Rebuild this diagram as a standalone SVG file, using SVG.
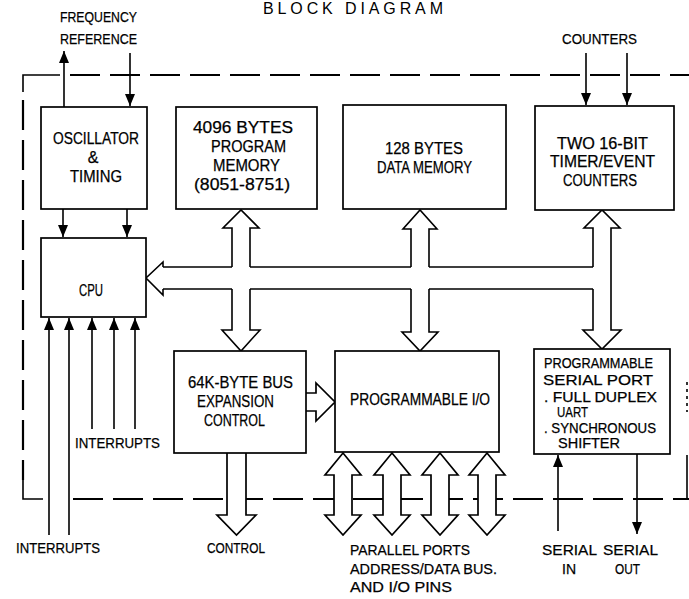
<svg xmlns="http://www.w3.org/2000/svg" width="689" height="599" viewBox="0 0 689 599">
<defs>
<marker id="ah" viewBox="0 0 12 10" refX="12" refY="5" markerWidth="12" markerHeight="10" markerUnits="userSpaceOnUse" orient="auto">
<path d="M0,0 L12,5 L0,10 Z" fill="#000"/>
</marker>
<style>
.box{fill:#fff;stroke:#000;stroke-width:1.7}
.ln{fill:none;stroke:#000;stroke-width:1.6}
.arr{fill:none;stroke:#000;stroke-width:1.6;marker-end:url(#ah)}
.bus{fill:#fff;stroke:#000;stroke-width:1.7;stroke-linejoin:miter}
.dash{fill:none;stroke:#000;stroke-width:2.2;stroke-dasharray:30 10}
text{font-family:"Liberation Sans",Arial,sans-serif;font-size:16px;fill:#000;text-anchor:middle;stroke:#000;stroke-width:0.25}
.s{font-size:15px}
.t{font-size:14px}
.st{text-anchor:start}
</style>
</defs>
<rect width="689" height="599" fill="#fff"/>
<text x="353" y="14" font-size="12" textLength="180" lengthAdjust="spacing" style="stroke:none">BLOCK DIAGRAM</text>

<g id="border">
<path class="ln" d="M23,92 L23,75 L60,75" stroke-width="2.2"/>
<path class="dash" d="M70,75 L689,75"/>
<path class="dash" d="M23,100 L23,480"/>
<path class="ln" d="M23,480 L23,499 L43,499" stroke-width="2.2"/>
<path class="dash" d="M73,499 L689,499"/>
<path class="ln" d="M687,455 L687,499" stroke-width="2"/>
<path class="ln" d="M687,382 L687,412" stroke-width="1" stroke-dasharray="3 4"/>
</g>

<g id="connectors">
<line class="arr" x1="64" y1="107" x2="64" y2="51"/>
<line class="arr" x1="130" y1="53" x2="130" y2="106"/>
<line class="arr" x1="586" y1="53" x2="586" y2="105"/>
<line class="arr" x1="627" y1="53" x2="627" y2="105"/>
<line class="arr" x1="63" y1="209" x2="63" y2="237"/>
<line class="arr" x1="127" y1="209" x2="127" y2="237"/>
<line class="arr" x1="49" y1="535" x2="49" y2="318"/>
<line class="arr" x1="69" y1="535" x2="69" y2="318"/>
<line class="arr" x1="92" y1="429" x2="92" y2="318"/>
<line class="arr" x1="114" y1="429" x2="114" y2="318"/>
<line class="arr" x1="135" y1="429" x2="135" y2="318"/>
<line class="arr" x1="558" y1="531" x2="558" y2="455"/>
<line class="arr" x1="637" y1="454" x2="637" y2="534"/>
<path class="ln" d="M163,267 L232,267 M250,267 L411,267 M429,267 L593,267"/>
<path class="ln" d="M163,289 L232,289 M250,289 L411,289 M429,289 L593,289"/>
<path class="ln" d="M163,267 L163,262 L146,278 L163,295 L163,289"/>
<path class="ln" d="M232,267 L232,228 L223,228 L241,210 L259,228 L250,228 L250,267"/>
<path class="ln" d="M232,289 L232,330 L222,330 L241,351 L260,330 L250,330 L250,289"/>
<path class="ln" d="M411,267 L411,229 L403,229 L420,210 L437,229 L429,229 L429,267"/>
<path class="ln" d="M411,289 L411,332 L402,332 L420,351 L438,332 L429,332 L429,289"/>
<path class="ln" d="M593,267 L593,228 L584,228 L602,210 L620,228 L611,228 L611,330 L621,330 L602,349 L583,330 L593,330 L593,289"/>
<path class="bus" d="M306,393 L316,393 L316,383 L335,402 L316,421 L316,411 L306,411"/>
<path class="bus" d="M227,453 L227,515 L217,515 L236.5,535 L256,515 L246,515 L246,453"/>
<path class="bus" d="M334,475 L325,475 L343,453 L361,475 L352,475 L352,515 L361,515 L343,535 L325,515 L334,515 Z"/>
<path class="bus" d="M383,475 L374,475 L392,453 L410,475 L401,475 L401,515 L410,515 L392,535 L374,515 L383,515 Z"/>
<path class="bus" d="M431,475 L422,475 L440,453 L458,475 L449,475 L449,515 L458,515 L440,535 L422,515 L431,515 Z"/>
<path class="bus" d="M478,475 L469,475 L487,453 L505,475 L496,475 L496,515 L505,515 L487,535 L469,515 L478,515 Z"/>
</g>

<g id="osc">
<rect class="box" x="41" y="107" width="106" height="102"/>
<text x="96" y="144" textLength="86" lengthAdjust="spacingAndGlyphs">OSCILLATOR</text>
<text x="93" y="163">&amp;</text>
<text x="96" y="182" textLength="52" lengthAdjust="spacingAndGlyphs">TIMING</text>
</g>
<g id="progmem">
<rect class="box" x="176" y="107" width="141" height="102"/>
<text x="243" y="133" textLength="100" lengthAdjust="spacingAndGlyphs">4096 BYTES</text>
<text x="248.5" y="152" textLength="75" lengthAdjust="spacingAndGlyphs">PROGRAM</text>
<text x="246.5" y="171" textLength="67" lengthAdjust="spacingAndGlyphs">MEMORY</text>
<text x="242" y="190" textLength="96" lengthAdjust="spacingAndGlyphs">(8051-8751)</text>
</g>
<g id="datamem">
<rect class="box" x="343" y="105" width="163" height="104"/>
<text x="424" y="154" textLength="78" lengthAdjust="spacingAndGlyphs">128 BYTES</text>
<text x="424.5" y="173" textLength="95" lengthAdjust="spacingAndGlyphs">DATA MEMORY</text>
</g>
<g id="timer">
<rect class="box" x="535" y="106" width="139" height="104"/>
<text x="602.5" y="149" textLength="91" lengthAdjust="spacingAndGlyphs">TWO 16-BIT</text>
<text x="602.5" y="167" textLength="105" lengthAdjust="spacingAndGlyphs">TIMER/EVENT</text>
<text x="600" y="186" textLength="74" lengthAdjust="spacingAndGlyphs">COUNTERS</text>
</g>
<g id="cpu">
<rect class="box" x="41" y="238" width="105" height="79"/>
<text x="91" y="296" textLength="24" lengthAdjust="spacingAndGlyphs">CPU</text>
</g>
<g id="expansion">
<rect class="box" x="174" y="351" width="132" height="102"/>
<text x="240.5" y="388" textLength="105" lengthAdjust="spacingAndGlyphs">64K-BYTE BUS</text>
<text x="235.5" y="407" textLength="77" lengthAdjust="spacingAndGlyphs">EXPANSION</text>
<text x="234.5" y="426" textLength="61" lengthAdjust="spacingAndGlyphs">CONTROL</text>
</g>
<g id="pio">
<rect class="box" x="335" y="351" width="164" height="101"/>
<text x="420" y="405" textLength="140" lengthAdjust="spacingAndGlyphs">PROGRAMMABLE I/O</text>
</g>
<g id="serial">
<rect class="box" x="534" y="349" width="136" height="105"/>
<text class="t" x="598.5" y="368" textLength="109" lengthAdjust="spacingAndGlyphs">PROGRAMMABLE</text>
<text class="t" x="598" y="385" textLength="110" lengthAdjust="spacingAndGlyphs">SERIAL PORT</text>
<text class="t" x="600.5" y="402" textLength="113" lengthAdjust="spacingAndGlyphs">. FULL DUPLEX</text>
<text class="t st" x="557" y="417" textLength="31" lengthAdjust="spacingAndGlyphs">UART</text>
<text class="t" x="600" y="433" textLength="112" lengthAdjust="spacingAndGlyphs">. SYNCHRONOUS</text>
<text class="t st" x="558" y="448" textLength="62" lengthAdjust="spacingAndGlyphs">SHIFTER</text>
</g>
<g id="labels">
<text class="s" x="98.5" y="22" textLength="77" lengthAdjust="spacingAndGlyphs">FREQUENCY</text>
<text class="s" x="98.5" y="44" textLength="77" lengthAdjust="spacingAndGlyphs">REFERENCE</text>
<text class="s" x="599.5" y="44" textLength="75" lengthAdjust="spacingAndGlyphs">COUNTERS</text>
<text class="s" x="117.5" y="448" textLength="85" lengthAdjust="spacingAndGlyphs">INTERRUPTS</text>
<text class="s" x="58" y="553" textLength="84" lengthAdjust="spacingAndGlyphs">INTERRUPTS</text>
<text class="s" x="236" y="553" textLength="58" lengthAdjust="spacingAndGlyphs">CONTROL</text>
<text class="s st" x="350" y="555" textLength="120" lengthAdjust="spacingAndGlyphs">PARALLEL PORTS</text>
<text class="s st" x="350" y="574" textLength="147" lengthAdjust="spacingAndGlyphs">ADDRESS/DATA BUS.</text>
<text class="s st" x="350" y="592" textLength="102" lengthAdjust="spacingAndGlyphs">AND I/O PINS</text>
<text class="s" x="569.5" y="555" textLength="55" lengthAdjust="spacingAndGlyphs">SERIAL</text>
<text class="s" x="569" y="574" textLength="14" lengthAdjust="spacingAndGlyphs">IN</text>
<text class="s" x="630.5" y="555" textLength="55" lengthAdjust="spacingAndGlyphs">SERIAL</text>
<text class="s" x="627.5" y="574" textLength="25" lengthAdjust="spacingAndGlyphs">OUT</text>
</g>
</svg>
